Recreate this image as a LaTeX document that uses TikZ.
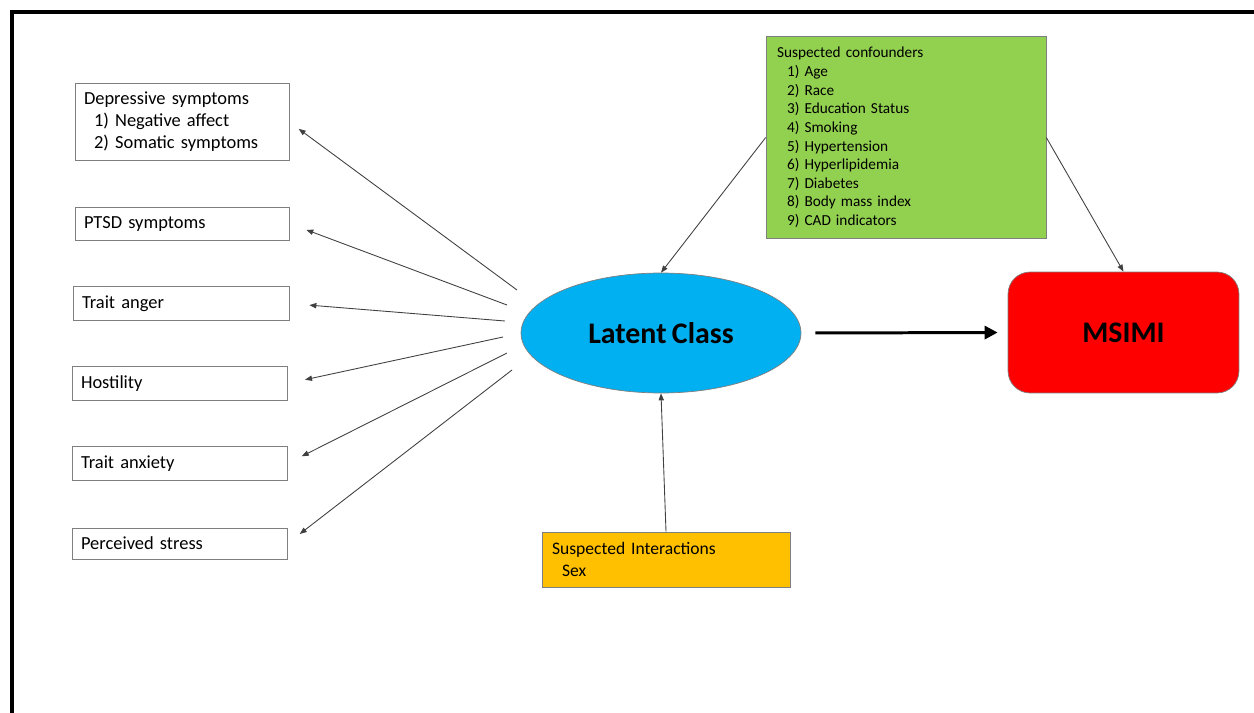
\documentclass[tikz,border=0pt]{standalone}
\usepackage{fontspec}
\setmainfont{Carlito}[WordSpace={0.8,0.3,0.1}]
\usepackage{tikz}
\usetikzlibrary{shapes.geometric,arrows.meta}
\definecolor{boxgray}{HTML}{7F7F7F}
\definecolor{confgreen}{HTML}{92D050}
\definecolor{lcblue}{HTML}{00B0F0}
\definecolor{intorange}{HTML}{FFC000}
\newcommand{\ind}{\hspace*{0.2cm}}

\begin{document}
\begin{tikzpicture}[x=0.02cm,y=-0.02cm]
      \tikzstyle{measure}=[rectangle,draw=boxgray,line width=0.5pt,inner sep=0.18cm,
        align=left,font=\fontsize{10.5}{12.5}\selectfont,minimum height=0.62cm]
      \tikzstyle{thinarrow}=[-{Triangle[length=4pt,width=3pt]},draw=black!75,line width=0.5pt]
      \useasboundingbox (0,0) rectangle (1254,713);
      % frame
      \draw[line width=2.2pt] (12,713) -- (12,12) -- (1254,12);
      % outcome measures
      \node[measure,minimum width=4.28cm,text width=4.28cm-0.36cm,minimum height=1.48cm] at (182,122) (dep)
        {Depressive symptoms\\ \ind 1) Negative affect\\ \ind 2) Somatic symptoms};
      \foreach \n/\x/\y/\w/\t in {ptsd/182/223.5/4.28/PTSD symptoms, anger/181/303.5/4.32/Trait anger,
        host/179.5/383.5/4.3/Hostility, anx/179.5/463.5/4.3/Trait anxiety,
        stress/179.5/543.5/4.3/Perceived stress}
        {\node[measure,minimum width=\w cm,text width=\w cm-0.36cm] at (\x,\y) (\n) {\t};}
      % latent class and outcome
      \node[ellipse,draw=boxgray,fill=lcblue,minimum width=5.6cm,minimum height=2.4cm,
        inner sep=0pt,font=\fontsize{17}{20}\selectfont\bfseries] at (661,333) (lc) {Latent Class};
      \node[rectangle,draw=boxgray,fill=red,rounded corners=0.44cm,minimum width=4.62cm,
        minimum height=2.42cm,font=\fontsize{17}{20}\selectfont\bfseries] at (1123.5,332.5) (ms) {MSIMI};
      % confounders and interactions
      \node[rectangle,draw=boxgray,fill=confgreen,minimum width=5.6cm,minimum height=3.98cm,
        text width=5.6cm-0.44cm,inner sep=0.22cm,align=left,font=\fontsize{8.7}{10.6}\selectfont]
        at (906,137.5) (conf) {Suspected confounders\\ \ind 1) Age\\ \ind 2) Race\\
        \ind 3) Education Status\\ \ind 4) Smoking\\ \ind 5) Hypertension\\ \ind 6) Hyperlipidemia\\
        \ind 7) Diabetes\\ \ind 8) Body mass index\\ \ind 9) CAD indicators};
      \node[rectangle,draw=boxgray,fill=intorange,minimum width=4.96cm,minimum height=1.1cm,
        text width=4.96cm-0.4cm,inner sep=0.2cm,align=left,font=\fontsize{10}{12.5}\selectfont]
        at (666,559.5) (int) {Suspected Interactions\\ \ind Sex};
      % arrows
      \foreach \n/\sx/\sy/\s in {dep/517/290/0.23, ptsd/507/305/0.36, anger/505/321/0.4,
        host/503/337/0.36, anx/507/353/0.32, stress/512/370/0.31}
        {\coordinate (s\n) at (\sx,\sy);
         \draw[thinarrow,shorten >=\s cm] (s\n) -- (\n.east);}
      \draw[thinarrow] (conf.west) -- (lc.north);
      \draw[thinarrow] (conf.east) -- (ms.north);
      \draw[thinarrow] (int.north) -- (lc.south);
      \draw[-{Triangle[length=7.4pt,width=7.4pt]},line width=1.7pt,shorten <=0.28cm,shorten >=0.2cm]
        (lc.east) -- (ms.west);
    \end{tikzpicture}
\end{document}
